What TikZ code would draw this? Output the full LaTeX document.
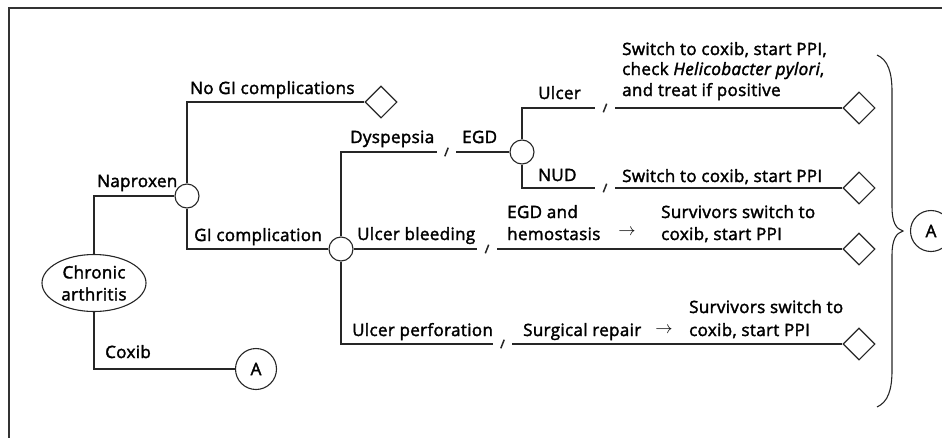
\documentclass[tikz,border=0pt]{standalone}
\usepackage{fontspec}
\setmainfont{Open Sans}[FakeBold=2, LetterSpace=2]
\usetikzlibrary{shapes.geometric,calc}
\tikzset{
  ln/.style={line width=1.1pt, draw=black!85},
  chance/.style={circle, draw=black!85, line width=1.1pt, fill=white, minimum size=24pt, inner sep=0pt},
  term/.style={diamond, draw=black!85, line width=1.1pt, fill=white, minimum width=32pt, minimum height=32pt, inner sep=0pt},
  conn/.style={circle, draw=black!85, line width=1.1pt, fill=white, minimum size=41pt, inner sep=0pt, font=\fontsize{17}{20}\selectfont},
  lbl/.style={anchor=base west, inner sep=0pt, font=\fontsize{17}{20}\selectfont},
  slashmark/.style={line width=1.5pt, draw=black!85},
}
\begin{document}
\begin{tikzpicture}[x=1pt, y=-1pt]
\useasboundingbox (0,0) rectangle (942,437);
\draw[line width=1.2pt, draw=black!80] (9,8) rectangle (960,460);

% nodes
\node[ellipse, draw=black!85, line width=1.1pt, minimum width=104pt, minimum height=57pt, inner sep=0pt, align=center, font=\fontsize{17}{22}\selectfont] (ca) at (94,283) {Chronic\\arthritis};
\node[chance] (n1) at (187,196) {};
\node[chance] (gi) at (341,249) {};
\node[chance] (egd) at (522,152) {};
\node[conn] (a1) at (256,369) {A};
\node[conn] (a2) at (931,231) {A};
\node[term] (d0) at (381,102) {};
\node[term] (d1) at (859,108) {};
\node[term] (d2) at (859,188) {};
\node[term] (d3) at (859,249) {};
\node[term] (d4) at (859,344) {};

% gap coordinates
\coordinate (dysA) at (437,152); \coordinate (dysB) at (456,152);
\coordinate (u1A) at (595,108);  \coordinate (u1B) at (615,108);
\coordinate (u2A) at (595,188);  \coordinate (u2B) at (615,188);
\coordinate (b1A) at (477,249);  \coordinate (b1B) at (497,249);
\coordinate (p1A) at (493,344);  \coordinate (p1B) at (512,344);

% connectors
\draw[ln] (ca.north) |- (n1.west);
\draw[ln] (n1.north) |- (d0.west);
\draw[ln] (n1.south) |- (gi.west);
\draw[ln] (ca.south) |- (a1.west);
\draw[ln] (gi.north) |- (dysA);
\draw[ln] (dysB) -- (egd.west);
\draw[ln] (egd.north) |- (u1A);
\draw[ln] (u1B) -- (d1.west);
\draw[ln] (egd.south) |- (u2A);
\draw[ln] (u2B) -- (d2.west);
\draw[ln] (gi.east) -- (b1A);
\draw[ln] (b1B) -- (d3.west);
\draw[ln] (gi.south) |- (p1A);
\draw[ln] (p1B) -- (d4.west);

% slashes
\foreach \a/\b in {dysA/dysB, u1A/u1B, u2A/u2B, b1A/b1B, p1A/p1B}{
  \coordinate (m) at ($(\a)!0.5!(\b)$);
  \draw[slashmark] ([shift={(-1.7,4.3)}]m) -- ([shift={(1.7,-4.3)}]m);
}

% brace
\draw[line width=1.1pt, draw=black!85] (877,55) .. controls (888,60) and (892,72) .. (892,92)
  -- (892,207) .. controls (892,222) and (896,229) .. (903,231)
  .. controls (896,233) and (892,240) .. (892,255)
  -- (892,370) .. controls (892,390) and (888,402) .. (877,407);

% labels
\node[lbl] (t1) at (190,94) {No GI complications};
\node[lbl] (t2) at (97,187) {Naproxen};
\node[lbl] (t3) at (194,241) {GI complication};
\node[lbl] (t4) at (105,358) {Coxib};
\node[lbl] (t5) at (350,143) {Dyspepsia};
\node[lbl] (t6) at (462,143) {EGD};
\node[lbl] (t7) at (538,99) {Ulcer};
\node[lbl] (t8) at (538,181) {NUD};
\node[lbl] (t9a) at (622,55) {Switch to coxib, start PPI,};
\node[lbl] (t9b) at (622,75) {check \textit{Helicobacter pylori},};
\node[lbl] (t9c) at (622,96) {and treat if positive};
\node[lbl] (t10) at (622,182) {Switch to coxib, start PPI};
\node[lbl] (t11) at (357,240) {Ulcer bleeding};
\node[lbl] (t12a) at (507,218) {EGD and};
\node[lbl] (t12b) at (507,240) {hemostasis};
\node[inner sep=0pt, font=\fontsize{16}{20}\selectfont] (ar1) at (627,232) {$\rightarrow$};
\node[lbl] (t13a) at (661,218) {Survivors switch to};
\node[lbl] (t13b) at (661,240) {coxib, start PPI};
\node[lbl] (t14) at (352,336) {Ulcer perforation};
\node[lbl] (t15) at (523,336) {Surgical repair};
\node[inner sep=0pt, font=\fontsize{16}{20}\selectfont] (ar2) at (664,330) {$\rightarrow$};
\node[lbl] (t16a) at (689,313) {Survivors switch to};
\node[lbl] (t16b) at (689,336) {coxib, start PPI};
\end{tikzpicture}
\end{document}
